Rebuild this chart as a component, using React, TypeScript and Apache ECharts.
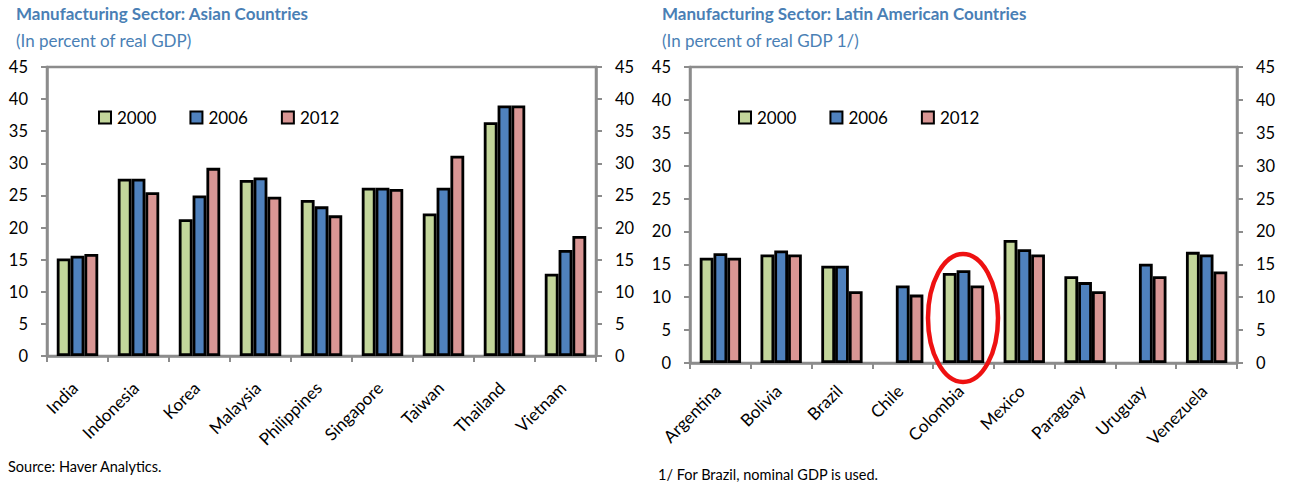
import React, { useEffect, useRef } from "react";
import * as echarts from "echarts";

const seriesNames = ["2000", "2006", "2012"];
const asiaCategories = ["India", "Indonesia", "Korea", "Malaysia", "Philippines", "Singapore", "Taiwan", "Thailand", "Vietnam"];
const asia2000 = [15.2, 27.6, 21.3, 27.4, 24.3, 26.2, 22.2, 36.4, 12.8];
const asia2006 = [15.6, 27.6, 25.0, 27.8, 23.3, 26.2, 26.2, 39.0, 16.5];
const asia2012 = [15.9, 25.5, 29.3, 24.8, 21.9, 26.0, 31.2, 39.0, 18.7];

const latamCategories = ["Argentina", "Bolivia", "Brazil", "Chile", "Colombia", "Mexico", "Paraguay", "Uruguay", "Venezuela"];
const latam2000 = [16.0, 16.5, 14.8, null, 13.7, 18.7, 13.2, null, 16.9];
const latam2006 = [16.7, 17.1, 14.8, 11.8, 14.1, 17.3, 12.3, 15.1, 16.5];
const latam2012 = [16.0, 16.5, 10.9, 10.4, 11.8, 16.5, 10.9, 13.2, 13.9];

const yTicks = { min: 0, max: 45, interval: 5 };

const colors = ["#c3d69b", "#4f81bd", "#d99694"];
const titleColor = "#4a7fb5";
const FONT = "Lato, 'Open Sans', sans-serif";
const axisGray = "#8c8c8c";

export default function App() {
  const ref = useRef<HTMLDivElement>(null);
  useEffect(() => {
    if (!ref.current) return;
    const chart = echarts.init(ref.current, undefined, { renderer: "svg" });

    const grids = [
      { left: 47, right: 1301 - 596, top: 67, bottom: 491 - 356 },
      { left: 690, right: 1301 - 1237, top: 67, bottom: 491 - 363 },
    ];

    const xAxes = [asiaCategories, latamCategories].map((cats, i) => ({
      type: "category",
      gridIndex: i,
      data: cats,
      boundaryGap: true,
      axisLine: { show: true, lineStyle: { color: axisGray, width: 2.5 } },
      axisTick: { show: true, alignWithLabel: false, length: 6, lineStyle: { color: axisGray, width: 2 } },
      axisLabel: { rotate: 45, fontSize: 17, color: "#000", fontFamily: FONT, margin: i === 0 ? 26 : 22, interval: 0, padding: [0, 4, 0, 0] },
    }));

    const yAxes: any[] = [];
    [0, 1].forEach((g) => {
      ["left", "right"].forEach((pos) => {
        yAxes.push({
          type: "value",
          gridIndex: g,
          position: pos,
          min: yTicks.min,
          max: yTicks.max,
          interval: yTicks.interval,
          axisLine: { show: true, lineStyle: { color: axisGray, width: 2.5 } },
          axisTick: { show: true, length: 6, lineStyle: { color: axisGray, width: 2 } },
          splitLine: { show: false },
          axisLabel: { fontSize: 16.5, color: "#000", fontFamily: FONT, margin: 19 },
        });
      });
    });

    const dataSets = [
      [asia2000, asia2006, asia2012],
      [latam2000, latam2006, latam2012],
    ];
    const series: any[] = [];
    dataSets.forEach((sets, g) => {
      sets.forEach((vals, k) => {
        series.push({
          type: "bar",
          name: seriesNames[k],
          xAxisIndex: g,
          yAxisIndex: g * 2,
          data: vals.map((v) => (v === null ? "-" : v)),
          barGap: "0%",
          barCategoryGap: "32%",
          itemStyle: { color: colors[k], borderColor: "#000", borderWidth: 2.8 },
        });
      });
    });

    const legendBase = {
      data: seriesNames,
      icon: "rect",
      itemWidth: 12,
      itemHeight: 12,
      itemGap: 33,
      orient: "horizontal",
      selectedMode: false,
      textStyle: { fontSize: 17, color: "#000", fontFamily: FONT, padding: [0, 0, 0, 1] },
    };

    chart.setOption({
      animation: false,
      grid: grids.map((g) => ({ ...g, show: true, borderColor: axisGray, borderWidth: 2.5, backgroundColor: "transparent" })),
      xAxis: xAxes,
      yAxis: yAxes,
      legend: [
        { ...legendBase, left: 93, top: 104 },
        { ...legendBase, left: 733, top: 104 },
      ],
      series,
      graphic: [
        { type: "text", left: 16, top: 5, style: { text: "Manufacturing Sector: Asian Countries", fontSize: 17, fontWeight: "bold", fill: titleColor, fontFamily: FONT } },
        { type: "text", left: 16, top: 32, style: { text: "(In percent of real GDP)", fontSize: 17, fill: titleColor, fontFamily: FONT } },
        { type: "text", left: 662, top: 5, style: { text: "Manufacturing Sector: Latin American Countries", fontSize: 17, fontWeight: "bold", fill: titleColor, fontFamily: FONT } },
        { type: "text", left: 662, top: 32, style: { text: "(In percent of real GDP 1/)", fontSize: 17, fill: titleColor, fontFamily: FONT } },
        { type: "text", left: 8, top: 459, style: { text: "Source: Haver Analytics.", fontSize: 14.5, fill: "#000", fontFamily: FONT } },
        { type: "text", left: 658, top: 467, style: { text: "1/ For Brazil, nominal GDP is used.", fontSize: 14.5, fill: "#000", fontFamily: FONT } },
        { type: "ellipse", shape: { cx: 963, cy: 318, rx: 35, ry: 64 }, style: { fill: "none", stroke: "#ee1111", lineWidth: 4.5 }, z: 100 },
      ],
    });

    return () => chart.dispose();
  }, []);

  return <div ref={ref} style={{ position: "fixed", left: 0, top: 0, width: 1301, height: 491, background: "#fff" }} />;
}
